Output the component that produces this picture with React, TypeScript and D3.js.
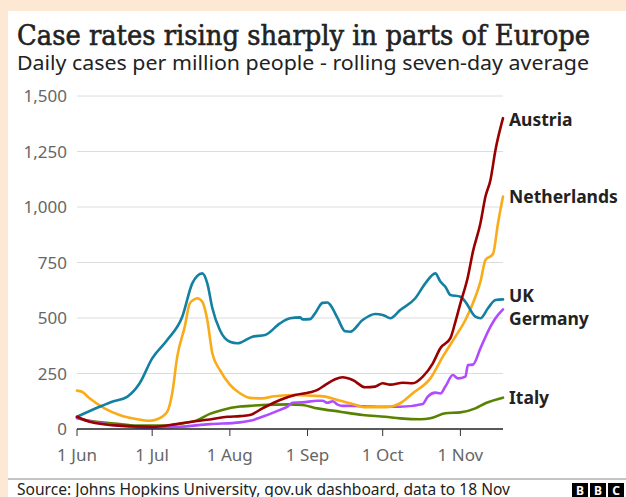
import React from "react";
import * as d3 from "d3";

const W = 626;
const H = 497;

const yTicks = [0, 250, 500, 750, 1000, 1250, 1500];
const xTickDates = ["06-01", "07-01", "08-01", "09-01", "10-01", "11-01"];
const xTickLabels = ["1 Jun", "1 Jul", "1 Aug", "1 Sep", "1 Oct", "1 Nov"];

const uk: [string, number][] = [
  ["06-01", 55], ["06-10", 100], ["06-15", 123], ["06-21", 145], ["06-26", 206],
  ["07-01", 318], ["07-07", 401], ["07-13", 506], ["07-17", 656], ["07-19", 690],
  ["07-21", 701], ["07-23", 656], ["07-25", 545], ["07-28", 446], ["08-01", 393],
  ["08-04", 386], ["08-10", 416], ["08-15", 423], ["08-21", 476], ["08-25", 499],
  ["08-29", 503], ["08-30", 494], ["09-02", 495], ["09-04", 521], ["09-07", 568],
  ["09-09", 570], ["09-10", 560], ["09-13", 499], ["09-16", 440], ["09-18", 438],
  ["09-23", 491], ["09-28", 518], ["10-01", 514], ["10-03", 503], ["10-04", 499],
  ["10-08", 536], ["10-14", 589], ["10-18", 656], ["10-22", 701], ["10-24", 664],
  ["10-26", 641], ["10-28", 604], ["11-01", 596], ["11-03", 573], ["11-07", 506],
  ["11-09", 499], ["11-12", 544], ["11-15", 581], ["11-18", 584],
];

const austria: [string, number][] = [
  ["06-01", 55], ["06-06", 33], ["06-18", 15], ["07-01", 10], ["07-12", 25],
  ["07-19", 36], ["07-24", 43], ["07-31", 55], ["08-05", 58], ["08-09", 63],
  ["08-14", 93], ["08-21", 131], ["08-27", 153], ["09-02", 165], ["09-05", 176],
  ["09-08", 198], ["09-12", 224], ["09-15", 233], ["09-19", 221], ["09-24", 188],
  ["09-28", 191], ["10-01", 206], ["10-04", 200], ["10-09", 208], ["10-13", 206],
  ["10-17", 236], ["10-21", 296], ["10-24", 364], ["10-28", 409], ["10-30", 483],
  ["11-01", 566], ["11-04", 686], ["11-06", 799], ["11-09", 927], ["11-11", 1047],
  ["11-13", 1122], ["11-15", 1257], ["11-18", 1400],
];

const netherlands: [string, number][] = [
  ["06-01", 173], ["06-03", 168], ["06-06", 138], ["06-12", 93], ["06-18", 63],
  ["06-25", 44], ["06-30", 37], ["07-03", 44], ["07-07", 78], ["07-09", 161],
  ["07-11", 326], ["07-14", 461], ["07-16", 566], ["07-18", 585], ["07-19", 589],
  ["07-21", 573], ["07-23", 491], ["07-25", 341], ["07-28", 266], ["08-01", 200],
  ["08-05", 161], ["08-09", 140], ["08-14", 138], ["08-18", 146], ["08-26", 153],
  ["09-03", 150], ["09-08", 146], ["09-13", 131], ["09-19", 113], ["09-24", 98],
  ["10-02", 98], ["10-05", 103], ["10-08", 116], ["10-13", 161], ["10-20", 228],
  ["10-25", 326], ["10-30", 416], ["11-03", 491], ["11-07", 596], ["11-09", 664],
  ["11-11", 761], ["11-14", 788], ["11-16", 927], ["11-18", 1047],
];

const germany: [string, number][] = [
  ["06-01", 50], ["06-06", 35], ["06-18", 15], ["06-29", 5], ["07-12", 10],
  ["07-24", 22], ["08-05", 30], ["08-09", 37], ["08-14", 55], ["08-21", 86],
  ["08-24", 101], ["08-26", 118], ["08-30", 120], ["09-05", 127], ["09-07", 127],
  ["09-09", 118], ["09-11", 125], ["09-13", 110], ["09-15", 104], ["09-19", 104],
  ["09-26", 101], ["10-02", 100], ["10-08", 100], ["10-17", 113], ["10-19", 146],
  ["10-22", 164], ["10-24", 160], ["10-26", 191], ["10-29", 243], ["10-31", 228],
  ["11-03", 236], ["11-04", 288], ["11-06", 290], ["11-09", 364], ["11-13", 461],
  ["11-15", 499], ["11-18", 539],
];

const italy: [string, number][] = [
  ["06-01", 50], ["06-06", 37], ["06-16", 25], ["06-25", 15], ["07-05", 15],
  ["07-13", 25], ["07-19", 40], ["07-24", 68], ["07-29", 86], ["08-05", 101],
  ["08-09", 104], ["08-14", 108], ["08-25", 111], ["08-30", 108], ["09-05", 93],
  ["09-14", 78], ["09-23", 63], ["10-02", 55], ["10-08", 48], ["10-16", 44],
  ["10-20", 48], ["10-26", 71], ["11-01", 75], ["11-07", 93], ["11-11", 116],
  ["11-18", 141],
];

const seriesNames = ["Italy", "Germany", "Netherlands", "UK", "Austria"];
const seriesData = [italy, germany, netherlands, uk, austria];
const seriesColors = ["#588300", "#b04bff", "#faab18", "#1380a1", "#990000"];
const labelNudge = [0, 9, 0, -4, 1];

const parse = (s: string) => d3.timeParse("%Y-%m-%d")("2020-" + s) as Date;

export default function App() {
  const x = d3
    .scaleTime()
    .domain([parse("06-01"), parse("11-18")])
    .range([77, 503]);
  const y = d3.scaleLinear().domain([0, 1500]).range([429, 96]);
  const line = d3
    .line<[string, number]>()
    .x((d) => x(parse(d[0])))
    .y((d) => y(d[1]))
    .curve(d3.curveMonotoneX);

  const sans = "'Noto Sans', 'Open Sans', sans-serif";

  return (
    <svg
      width={W}
      height={H}
      style={{ position: "absolute", left: 0, top: 0, display: "block" }}
    >
      <rect x={0} y={0} width={W} height={H} fill="#fde8d4" />
      <rect x={8} y={11} width={W - 8} height={H - 11} fill="#ffffff" />
      <text
        x={17}
        y={45}
        fontFamily="'DejaVu Serif', serif"
        fontWeight="normal"
        fontSize={27}
        fill="#222"
        stroke="#222"
        strokeWidth={0.6}
        textLength={573}
        lengthAdjust="spacingAndGlyphs"
      >
        Case rates rising sharply in parts of Europe
      </text>
      <text
        x={17}
        y={70}
        fontFamily={sans}
        fontSize={20}
        fill="#222"
        textLength={572}
        lengthAdjust="spacingAndGlyphs"
      >
        Daily cases per million people - rolling seven-day average
      </text>

      {yTicks.map((t) => (
        <g key={t}>
          {t > 0 && (
            <line x1={77} x2={503} y1={y(t)} y2={y(t)} stroke="#dcdcdc" strokeWidth={1} />
          )}
          <text
            x={67}
            y={y(t)}
            dy="0.36em"
            textAnchor="end"
            fontFamily={sans}
            fontSize={17}
            fill="#666"
          >
            {d3.format(",")(t)}
          </text>
        </g>
      ))}

      {seriesData.map((s, i) => (
        <path
          key={seriesNames[i]}
          d={line(s) || ""}
          fill="none"
          stroke={seriesColors[i]}
          strokeWidth={2.6}
          strokeLinejoin="round"
          strokeLinecap="round"
        />
      ))}

      <line x1={77} x2={503} y1={y(0)} y2={y(0)} stroke="#222" strokeWidth={1.5} />
      {xTickDates.map((d, i) => (
        <g key={d}>
          <line x1={x(parse(d))} x2={x(parse(d))} y1={y(0)} y2={y(0) + 7} stroke="#333" strokeWidth={1} />
          <text
            x={x(parse(d))}
            y={461}
            textAnchor="middle"
            fontFamily={sans}
            fontSize={17}
            fill="#666"
          >
            {xTickLabels[i]}
          </text>
        </g>
      ))}

      {seriesData.map((s, i) => (
        <text
          key={"l" + seriesNames[i]}
          x={509}
          y={y(s[s.length - 1][1]) + labelNudge[i]}
          dy="0.36em"
          fontFamily={sans}
          fontWeight="bold"
          fontSize={17.5}
          fill="#222"
        >
          {seriesNames[i]}
        </text>
      ))}

      <line x1={8} x2={W} y1={479} y2={479} stroke="#888" strokeWidth={1} />
      <text
        x={17}
        y={495}
        fontFamily={sans}
        fontSize={15.5}
        fill="#222"
        textLength={493}
        lengthAdjust="spacingAndGlyphs"
      >
        Source: Johns Hopkins University, gov.uk dashboard, data to 18 Nov
      </text>
      {["B", "B", "C"].map((c, i) => (
        <g key={i}>
          <rect x={572 + i * 18} y={483} width={16} height={16} fill="#000" />
          <text
            x={580 + i * 18}
            y={495}
            textAnchor="middle"
            fontFamily={sans}
            fontWeight="bold"
            fontSize={12}
            fill="#fff"
          >
            {c}
          </text>
        </g>
      ))}
    </svg>
  );
}
